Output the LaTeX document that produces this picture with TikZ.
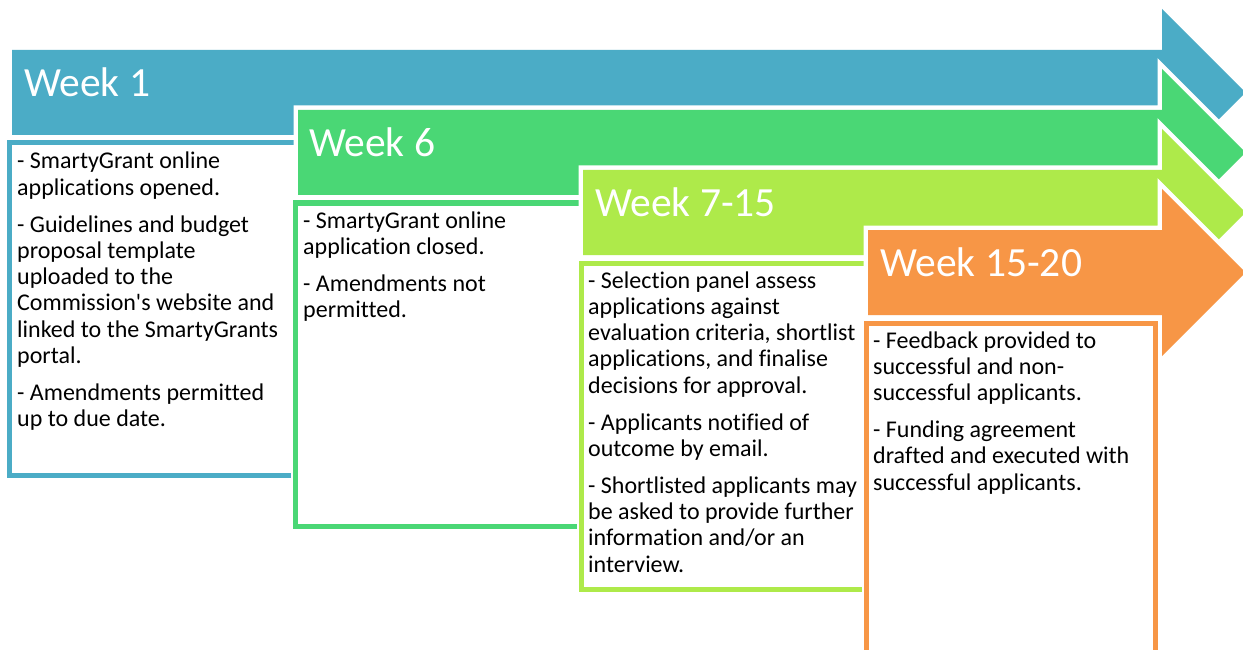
\documentclass[tikz,border=0pt]{standalone}
\usepackage{fontspec}
\setmainfont{Carlito}[Ligatures={TeXOff,NoCommon}]

\definecolor{wkblue}{RGB}{75,172,198}
\definecolor{wkgreen}{RGB}{74,215,117}
\definecolor{wklime}{RGB}{174,234,74}
\definecolor{wkorange}{RGB}{247,150,70}

\tikzset{
  halo/.style={draw=white, line width=9pt, line join=miter, miter limit=10},
  panelhalo/.style={draw=white, line width=8pt},
  panel/.style={draw=#1, line width=5pt, fill=white},
  stagetitle/.style={anchor=base west, inner sep=0pt, text=white,
    font=\fontsize{41.5}{49}\selectfont},
  notes/.style={anchor=base west, inner sep=0pt, text=black},
}

% a block of notes whose reference point is the baseline of its first line
\newcommand\notetext[1]{\parbox[t]{290pt}{\fontsize{24}{26.3}\selectfont\raggedright #1}}

\begin{document}
\begin{tikzpicture}[x=1pt, y=-1pt]
\useasboundingbox (0,0) rectangle (1243,650);
\clip (0,0) rectangle (1243,650);

% ---- Week 1 ----
\draw[halo] (12,50) -- (1162,50) -- (1162,9) -- (1245.5,92.5) -- (1162,176) -- (1162,135) -- (12,135) -- cycle;
\fill[wkblue] (12,50) -- (1162,50) -- (1162,9) -- (1245.5,92.5) -- (1162,176) -- (1162,135) -- (12,135) -- cycle;
\draw[panelhalo] (9.5,142.5) rectangle (297,475);
\draw[panel=wkblue] (9.5,142.5) rectangle (297,475);
\node[stagetitle] (t1) at (24,97) {Week 1};
\node[notes] (n1) at (17,169) {\notetext{%
- SmartyGrant online\\
applications opened.\\[10.5pt]
- Guidelines and budget\\
proposal template\\
uploaded to the\\
Commission's website and\\
linked to the SmartyGrants\\
portal.\\[10.5pt]
- Amendments permitted\\
up to due date.}};

% ---- Week 6 ----
\draw[halo] (298,110) -- (1162,110) -- (1162,69) -- (1245.5,152.5) -- (1162,236) -- (1162,195) -- (298,195) -- cycle;
\fill[wkgreen] (298,110) -- (1162,110) -- (1162,69) -- (1245.5,152.5) -- (1162,236) -- (1162,195) -- (298,195) -- cycle;
\draw[panelhalo] (295,203) rectangle (583,526);
\draw[panel=wkgreen] (295,203) rectangle (583,526);
\node[stagetitle] (t2) at (309,157) {Week 6};
\node[notes] (n2) at (303,228) {\notetext{%
- SmartyGrant online\\
application closed.\\[10.5pt]
- Amendments not\\
permitted.}};

% ---- Week 7-15 ----
\draw[halo] (583,170) -- (1162,170) -- (1162,129) -- (1245.5,212.5) -- (1162,296) -- (1162,255) -- (583,255) -- cycle;
\fill[wklime] (583,170) -- (1162,170) -- (1162,129) -- (1245.5,212.5) -- (1162,296) -- (1162,255) -- (583,255) -- cycle;
\draw[panelhalo] (581,263) rectangle (868,589);
\draw[panel=wklime] (581,263) rectangle (868,589);
\node[stagetitle] (t3) at (595,216) {Week 7-15};
\node[notes] (n3) at (588,288) {\notetext{%
- Selection panel assess\\
applications against\\
evaluation criteria, shortlist\\
applications, and finalise\\
decisions for approval.\\[10.5pt]
- Applicants notified of\\
outcome by email.\\[10.5pt]
- Shortlisted applicants may\\
be asked to provide further\\
information and/or an\\
interview.}};

% ---- Week 15-20 ----
\draw[halo] (868,230) -- (1162,230) -- (1162,189) -- (1245.5,272.5) -- (1162,356) -- (1162,315) -- (868,315) -- cycle;
\fill[wkorange] (868,230) -- (1162,230) -- (1162,189) -- (1245.5,272.5) -- (1162,356) -- (1162,315) -- (868,315) -- cycle;
\draw[panelhalo] (866,323) rectangle (1155,670);
\draw[panel=wkorange] (866,323) rectangle (1155,670);
\node[stagetitle] (t4) at (880,276) {Week 15-20};
\node[notes] (n4) at (873,348) {\notetext{%
- Feedback provided to\\
successful and non-\\
successful applicants.\\[10.5pt]
- Funding agreement\\
drafted and executed with\\
successful applicants.}};
\end{tikzpicture}
\end{document}
